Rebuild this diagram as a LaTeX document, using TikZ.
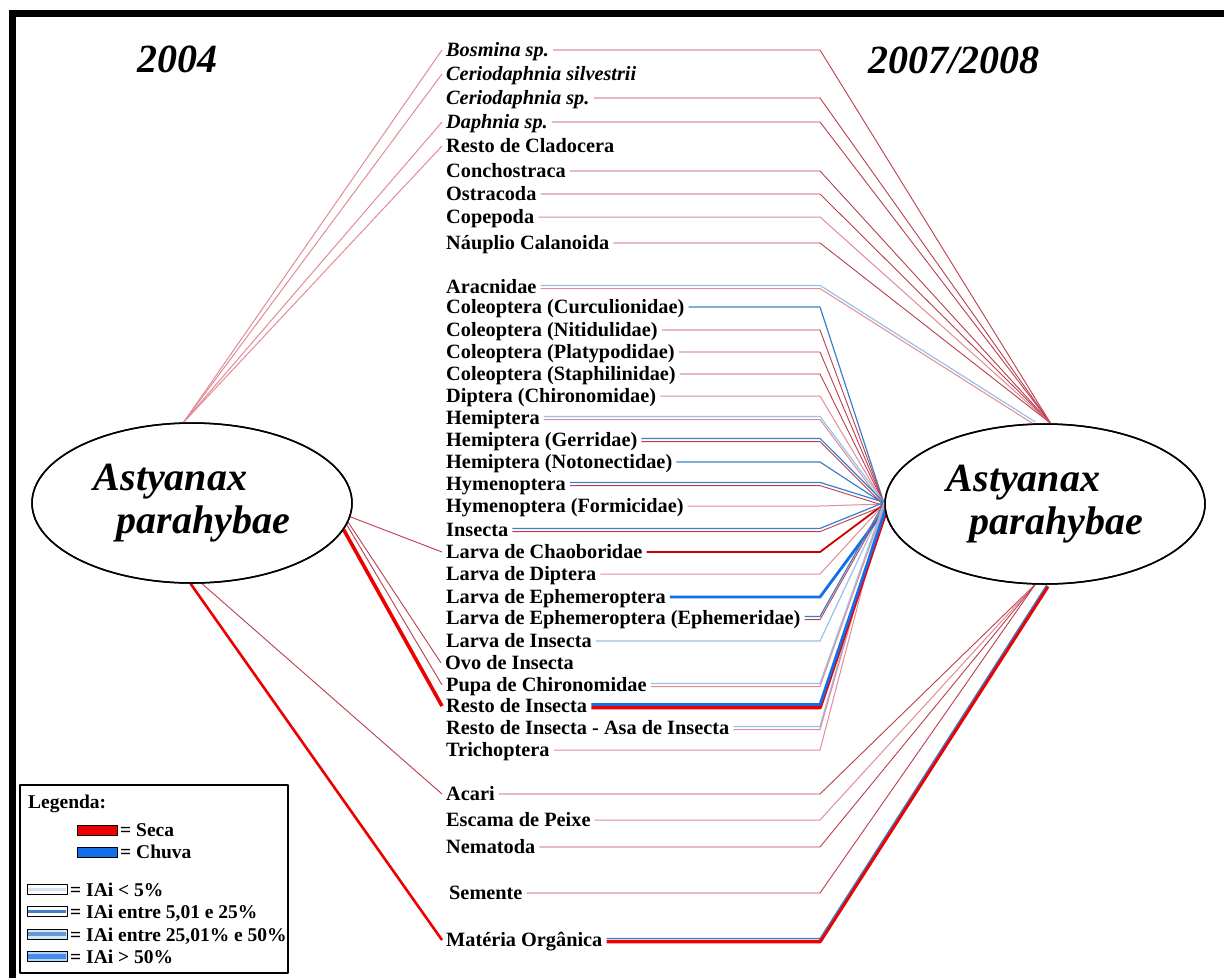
\documentclass[tikz,border=0pt]{standalone}
\usepackage{fontspec}
\setmainfont{Liberation Serif}
\usetikzlibrary{shapes.geometric}
\definecolor{redlt}{RGB}{226,140,152}
\definecolor{reddk}{RGB}{188,62,78}
\definecolor{redst}{RGB}{238,0,0}
\definecolor{bluelt}{RGB}{150,195,232}
\definecolor{bluemd}{RGB}{60,128,200}
\definecolor{bluest}{RGB}{20,110,232}
\begin{document}
\begin{tikzpicture}[x=1pt,y=-1pt,line join=round,
  lbl/.style={anchor=west,inner xsep=4pt,inner ysep=0pt,text height=13pt,text depth=0pt,
    font=\fontsize{20.3}{22}\selectfont\bfseries},
  ilbl/.style={lbl,font=\fontsize{20.3}{22}\selectfont\bfseries\itshape},
  fish/.style={draw,ellipse,line width=1.5pt,fill=white,minimum width=320pt,minimum height=160pt,
    inner sep=0pt,align=left,font=\fontsize{40}{43}\selectfont\bfseries\itshape},
  yeartitle/.style={anchor=base,inner sep=0pt,font=\fontsize{40}{44}\selectfont\bfseries\itshape},
  legtext/.style={anchor=base west,inner sep=0pt,font=\fontsize{19.5}{21}\selectfont\bfseries},
  legbox/.style={draw=black,line width=0.9pt},
  r1/.style={redlt,line width=1pt},
  r2/.style={reddk,line width=0.9pt},
  r3/.style={redst!85!black,line width=1.8pt},
  r4/.style={redst,line width=3.6pt},
  b1/.style={bluelt,line width=1.2pt},
  b2/.style={bluemd,line width=1.2pt},
  b3/.style={bluest,line width=2.8pt},
  hi/.style={transform canvas={yshift=1.6pt}},
  lo/.style={transform canvas={yshift=-1.6pt}}]
\useasboundingbox (0,0) rectangle (1224,978);
\fill[white] (0,0) rectangle (1224,978);

% frame
\fill[black] (10,10) rectangle (1224,17);
\fill[black] (9,10) rectangle (16,978);

% titles
\node[yeartitle] (t04) at (177,72) {2004};
\node[yeartitle] (t08) at (954,73) {2007/2008};

% the two fish nodes
\node[fish] (L) at (192,503) {Astyanax\\\hspace*{23pt}parahybae};
\node[fish] (R) at (1045,504) {Astyanax\\\hspace*{23pt}parahybae};
\coordinate (bx) at (820,0);

% food items
\node[ilbl] (bos) at (442,50) {Bosmina sp.};
\node[ilbl] (cers) at (442,74) {Ceriodaphnia silvestrii};
\node[ilbl] (cer) at (442,98) {Ceriodaphnia sp.};
\node[ilbl] (dap) at (442,122) {Daphnia sp.};
\node[lbl] (rcl) at (442,146) {Resto de Cladocera};
\node[lbl] (con) at (442,171) {Conchostraca};
\node[lbl] (ost) at (442,194) {Ostracoda};
\node[lbl] (cop) at (442,217) {Copepoda};
\node[lbl] (nau) at (442,243) {Náuplio Calanoida};
\node[lbl] (ara) at (442,287) {Aracnidae};
\node[lbl] (ccu) at (442,307) {Coleoptera (Curculionidae)};
\node[lbl] (cni) at (442,330) {Coleoptera (Nitidulidae)};
\node[lbl] (cpl) at (442,352) {Coleoptera (Platypodidae)};
\node[lbl] (cst) at (442,374) {Coleoptera (Staphilinidae)};
\node[lbl] (dch) at (442,396) {Diptera (Chironomidae)};
\node[lbl] (hem) at (442,418) {Hemiptera};
\node[lbl] (hge) at (442,440) {Hemiptera (Gerridae)};
\node[lbl] (hno) at (442,462) {Hemiptera (Notonectidae)};
\node[lbl] (hym) at (442,484) {Hymenoptera};
\node[lbl] (hfo) at (442,506) {Hymenoptera (Formicidae)};
\node[lbl] (ins) at (442,530) {Insecta};
\node[lbl] (lch) at (442,552) {Larva de Chaoboridae};
\node[lbl] (ldi) at (442,574) {Larva de Diptera};
\node[lbl] (lep) at (442,597) {Larva de Ephemeroptera};
\node[lbl] (lee) at (442,618) {Larva de Ephemeroptera (Ephemeridae)};
\node[lbl] (lin) at (442,641) {Larva de Insecta};
\node[lbl] (ovo) at (441,663) {Ovo de Insecta};
\node[lbl] (pup) at (442,685) {Pupa de Chironomidae};
\node[lbl] (rin) at (442,706) {Resto de Insecta};
\node[lbl] (ras) at (442,728) {Resto de Insecta - Asa de Insecta};
\node[lbl] (tri) at (442,750) {Trichoptera};
\node[lbl] (aca) at (442,794) {Acari};
\node[lbl] (esc) at (442,820) {Escama de Peixe};
\node[lbl] (nem) at (442,847) {Nematoda};
\node[lbl] (sem) at (445,893) {Semente};
\node[lbl] (mat) at (442,940) {Matéria Orgânica};

% 2004 links
\foreach \n in {bos,cers,dap,rcl}
  \draw[r1] (L.96) -- (\n.west);
\draw[r2] (L.-5) -- (lch.west);
\draw[r2] (L.-7) -- (ovo.west);
\draw[r2] (L.-8) -- (pup.west);
\draw[r4] (L.-10) -- (rin.west);
\draw[r2] (L.-83) -- (aca.west);
\draw[redst,line width=2.6pt] (L.-91) -- (mat.west);

% 2007/2008 links: upper group
\foreach \n/\s in {bos/r2,cer/r2,dap/r2,con/r2,ost/r2,cop/r1,nau/r2}
  \draw[\s] (\n.east) -- (\n.east -| bx) -- (R.86);
\draw[b1,hi] (ara.east) -- (ara.east -| bx) -- (R.97);
\draw[r1,lo] (ara.east) -- (ara.east -| bx) -- (R.97);

% middle group
\foreach \n/\s in {ccu/b2,cni/r2,cpl/r2,cst/r2,dch/r1,hno/b2,hfo/r1,lch/r3,ldi/r1,lin/b1,tri/r1}
  \draw[\s] (\n.east) -- (\n.east -| bx) -- (R.180);
\draw[b3] (lep.east) -- (lep.east -| bx) -- (R.182);
\foreach \n/\sb/\sr in {hem/b1/r1,hge/b2/r2,hym/b2/r2,ins/b2/r2,lee/b2/r2,pup/b1/r1,ras/b1/r1}{
  \draw[\sb,hi] (\n.east) -- (\n.east -| bx) -- (R.180);
  \draw[\sr,lo] (\n.east) -- (\n.east -| bx) -- (R.180);
}
\draw[r4,lo] (rin.east) -- (rin.east -| bx) -- (R.183);
\draw[b3,hi] (rin.east) -- (rin.east -| bx) -- (R.183);

% lower group
\foreach \n/\s in {aca/r2,esc/r1,nem/r2,sem/r2}
  \draw[\s] (\n.east) -- (\n.east -| bx) -- (R.-97);
\draw[r4,lo] (mat.east) -- (mat.east -| bx) -- (R.-88);
\draw[b2,hi] (mat.east) -- (mat.east -| bx) -- (R.-88);

% redraw the outlines over the line ends
\node[fish,fill=none] at (L) {\phantom{Astyanax}};
\node[fish,fill=none] at (R) {\phantom{Astyanax}};

% legend
\draw[line width=1.2pt] (20,785) rectangle (288,973);
\node[legtext] (lg) at (28,808) {Legenda:};
\draw[legbox,fill=redst] (77,825) rectangle (117,835);
\node[legtext] (lsec) at (120,836) {= Seca};
\draw[legbox,fill=bluest] (77,847) rectangle (117,857);
\node[legtext] (lchu) at (120,858) {= Chuva};
\draw[legbox,fill=white] (27,884) rectangle (67,894);
\fill[bluelt!45] (28,888) rectangle (66,890.5);
\node[legtext] (l1) at (70,896) {= IAi < 5\%};
\draw[legbox,fill=white] (27,906) rectangle (67,916);
\fill[bluemd] (28,910) rectangle (66,912.5);
\node[legtext] (l2) at (70,918) {= IAi entre 5,01 e 25\%};
\draw[legbox,fill=bluelt!40] (27,929) rectangle (67,939);
\fill[bluemd!80!white] (28,932) rectangle (66,936);
\node[legtext] (l3) at (70,941) {= IAi entre 25,01\% e 50\%};
\draw[legbox,fill=bluelt!70] (27,951) rectangle (67,961);
\fill[bluest!80!white] (28,953.5) rectangle (66,958.5);
\node[legtext] (l4) at (70,963) {= IAi > 50\%};
\end{tikzpicture}
\end{document}
